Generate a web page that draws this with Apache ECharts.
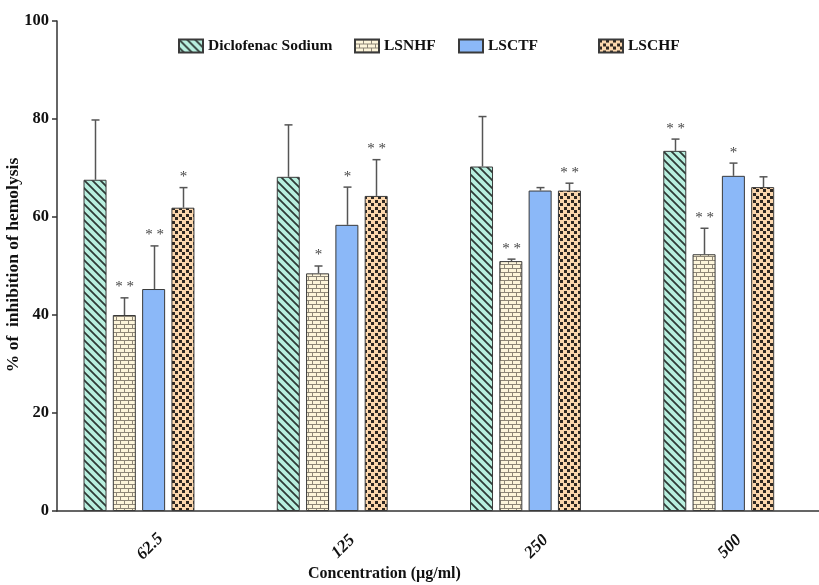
<!DOCTYPE html>
<html>
<head>
<meta charset="utf-8">
<script src="https://cdn.jsdelivr.net/npm/echarts@6/dist/echarts.min.js"></script>
<style>html,body{margin:0;padding:0;background:#fff}#c{width:819px;height:585px}</style>
</head>
<body>
<div id="c"></div>
<script>
// ---- data ----
var categories = ['62.5', '125', '250', '500'];
var seriesNames = ['Diclofenac Sodium', 'LSNHF', 'LSCTF', 'LSCHF'];
var diclofenac = [67.6, 68.2, 70.3, 73.5];
var diclofenacErr = [12.2, 10.6, 10.2, 2.4];
var diclofenacSig = ['', '', '', '**'];
var lsnhf = [40.0, 48.5, 51.0, 52.4];
var lsnhfErr = [3.5, 1.5, 0.4, 5.3];
var lsnhfSig = ['**', '*', '**', '**'];
var lsctf = [45.3, 58.4, 65.4, 68.4];
var lsctfErr = [8.8, 7.7, 0.6, 2.6];
var lsctfSig = ['**', '*', '', '*'];
var lschf = [61.9, 64.3, 65.4, 66.1];
var lschfErr = [4.1, 7.4, 1.5, 2.1];
var lschfSig = ['*', '**', '**', ''];
var yTicks = [0, 20, 40, 60, 80, 100];

// ---- patterns ----
function makeCanvas(w, h) { var c = document.createElement('canvas'); c.width = w; c.height = h; return c; }
function diagPattern() {
  var c = makeCanvas(8, 8), g = c.getContext('2d');
  g.fillStyle = '#b8efdf'; g.fillRect(0, 0, 8, 8);
  g.strokeStyle = '#2e3a36'; g.lineWidth = 1.8;
  g.beginPath();
  g.moveTo(-2, -2); g.lineTo(10, 10);
  g.moveTo(-10, -2); g.lineTo(2, 10);
  g.moveTo(6, -2); g.lineTo(18, 10);
  g.stroke();
  return c;
}
function brickPattern() {
  var c = makeCanvas(8, 8), g = c.getContext('2d');
  g.fillStyle = '#fdf5da'; g.fillRect(0, 0, 8, 8);
  g.fillStyle = '#8d8576';
  g.fillRect(0, 0, 8, 1); g.fillRect(0, 4, 8, 1);
  g.fillRect(0, 0, 1, 4); g.fillRect(4, 4, 1, 4);
  return c;
}
function checkPattern() {
  var c = makeCanvas(7, 7), g = c.getContext('2d');
  g.fillStyle = '#fcd7ad'; g.fillRect(0, 0, 7, 7);
  g.fillStyle = '#2f2822';
  g.fillRect(0, 0, 3, 3); g.fillRect(4, 4, 3, 3);
  return c;
}
var fills = [
  { image: diagPattern(), repeat: 'repeat' },
  { image: brickPattern(), repeat: 'repeat' },
  '#8bb8f8',
  { image: checkPattern(), repeat: 'repeat' }
];
var means = [diclofenac, lsnhf, lsctf, lschf];
var errs = [diclofenacErr, lsnhfErr, lsctfErr, lschfErr];
var sigs = [diclofenacSig, lsnhfSig, lsctfSig, lschfSig];

var BAR_W = 23, GAP = 6.3, SLOTS = 5;
var font = '"Liberation Serif", "Times New Roman", serif';

var series = [];
for (var i = 0; i < 4; i++) {
  series.push({
    name: seriesNames[i], type: 'bar', barWidth: BAR_W, barGap: (GAP / BAR_W * 100) + '%',
    data: means[i],
    itemStyle: { color: fills[i], borderColor: '#3a3a3a', borderWidth: 1 },
    z: 2
  });
}
// empty fifth slot so that the category tick lines up with the third bar (as in the original)
series.push({ name: 'slot', type: 'bar', barWidth: BAR_W, data: [], silent: true });

function errRenderer(si) {
  return function (params, api) {
    var idx = params.dataIndex;
    var m = means[si][idx], e = errs[si][idx], s = sigs[si][idx];
    var base = api.coord([idx, m]);
    var top = api.coord([idx, m + e]);
    var pitch = BAR_W + GAP;
    var off = (si - (SLOTS - 1) / 2) * pitch;
    var x = Math.round(base[0] + off) + 0.5;
    var children = [
      { type: 'line', shape: { x1: x, y1: base[1], x2: x, y2: top[1] }, style: { stroke: '#555', lineWidth: 1.5 } },
      { type: 'line', shape: { x1: x - 4, y1: top[1], x2: x + 4, y2: top[1] }, style: { stroke: '#555', lineWidth: 1.5 } }
    ];
    if (s) {
      children.push({ type: 'text', x: x, y: top[1] - 3,
        style: { text: s.split('').join(' '), fill: '#444', font: '15px ' + font, align: 'center', verticalAlign: 'bottom' } });
    }
    return { type: 'group', children: children };
  };
}
for (var j = 0; j < 4; j++) {
  series.push({
    type: 'custom', name: 'err' + j, renderItem: errRenderer(j), z: 5, silent: true,
    data: means[j].map(function (v, k) { return [k, v + errs[j][k]]; }),
    encode: { x: 0, y: 1 }
  });
}

var legendLefts = [173, 349, 453, 593];
var legends = seriesNames.map(function (n, k) {
  return { data: [n], left: legendLefts[k], top: 33, itemWidth: 24, itemHeight: 13, itemGap: 12,
    icon: 'rect', textStyle: { fontFamily: font, fontWeight: 'bold', fontSize: 15.5, color: '#111' } };
});

var chart = echarts.init(document.getElementById('c'), null, { renderer: 'canvas' });
chart.setOption({
  animation: false,
  backgroundColor: '#fff',
  legend: legends,
  grid: { left: 57, right: -11, top: 21, bottom: 74, outerBoundsMode: 'none', containLabel: false },
  xAxis: {
    type: 'category', data: categories,
    axisLine: { lineStyle: { color: '#333', width: 1.5 } },
    axisTick: { alignWithLabel: true, length: 6, lineStyle: { color: '#333', width: 1.5 } },
    axisLabel: { rotate: 45, margin: 32, align: 'center', verticalAlign: 'middle', padding: [0, 10, 0, 0],
      fontFamily: font, fontWeight: 'bold', fontStyle: 'italic', fontSize: 17, color: '#111' }
  },
  yAxis: {
    type: 'value', min: yTicks[0], max: yTicks[yTicks.length - 1], interval: 20,
    splitLine: { show: false },
    axisLine: { show: true, lineStyle: { color: '#333', width: 1.5 } },
    axisTick: { show: true, length: 5, lineStyle: { color: '#333', width: 1.5 } },
    axisLabel: { fontFamily: font, fontWeight: 'bold', fontSize: 16.5, color: '#111', margin: 8 }
  },
  graphic: [{
    type: 'text', x: 13, y: 265, rotation: Math.PI / 2,
    style: { text: '% of  inhibition of hemolysis', font: 'bold 17.5px ' + font, fill: '#111', align: 'center', verticalAlign: 'middle' }
  }, {
    type: 'text', left: 308, top: 566,
    style: { text: 'Concentration (\u00b5g/ml)', font: 'bold 16px ' + font, fill: '#111' }
  }],
  series: series
});
</script>
</body>
</html>
